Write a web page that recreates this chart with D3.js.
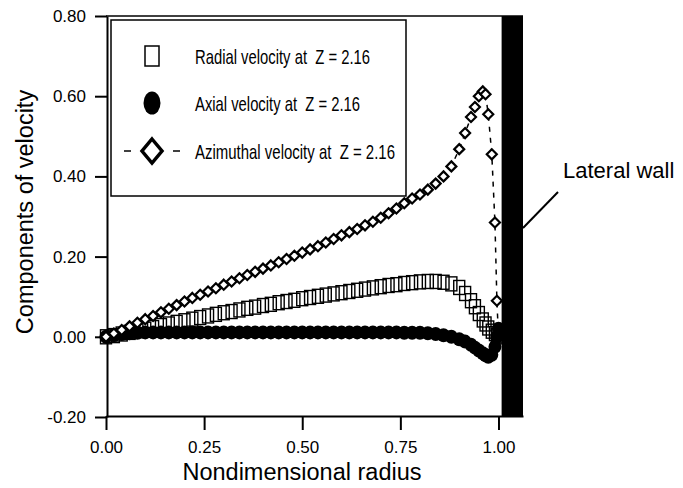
<!DOCTYPE html>
<html>
<head>
<meta charset="utf-8">
<script src="https://cdn.jsdelivr.net/npm/d3@7/dist/d3.min.js"></script>
<style>
  html, body { margin: 0; padding: 0; background: #fff; }
  svg { display: block; }
  text { font-family: "Liberation Sans", Arial, sans-serif; fill: #000; }
</style>
</head>
<body>
<svg id="chart" width="683" height="488"></svg>
<script>
// Nondimensional radius of each grid node (refined towards the lateral wall)
const radius = [
  0.00, 0.02, 0.04, 0.06, 0.08, 0.10, 0.12, 0.14, 0.16, 0.18,
  0.20, 0.22, 0.24, 0.26, 0.28, 0.30, 0.32, 0.34, 0.36, 0.38,
  0.40, 0.42, 0.44, 0.46, 0.48, 0.50, 0.52, 0.54, 0.56, 0.58,
  0.60, 0.62, 0.64, 0.66, 0.68, 0.70, 0.72, 0.74, 0.76, 0.78,
  0.80, 0.82, 0.84, 0.86, 0.88, 0.90, 0.915, 0.93, 0.94, 0.95,
  0.96, 0.967, 0.974, 0.983, 0.991, 0.996, 1.00
];

// Radial velocity at Z = 2.16
const radialVelocity = [
  0.000, 0.003, 0.007, 0.011, 0.015, 0.019, 0.023, 0.028, 0.032, 0.036,
  0.040, 0.044, 0.048, 0.052, 0.056, 0.060, 0.063, 0.067, 0.071, 0.074,
  0.078, 0.081, 0.085, 0.088, 0.091, 0.095, 0.098, 0.101, 0.104, 0.107,
  0.110, 0.113, 0.116, 0.119, 0.122, 0.125, 0.128, 0.130, 0.133, 0.135,
  0.137, 0.138, 0.138, 0.136, 0.132, 0.123, 0.108, 0.090, 0.075, 0.058,
  0.042, 0.032, 0.022, 0.014, 0.008, 0.004, 0.000
];

// Axial velocity at Z = 2.16
const axialVelocity = [
  0.000, 0.004, 0.007, 0.009, 0.010, 0.011, 0.011, 0.011, 0.011, 0.011,
  0.011, 0.011, 0.011, 0.011, 0.011, 0.011, 0.011, 0.011, 0.011, 0.011,
  0.011, 0.011, 0.011, 0.011, 0.011, 0.011, 0.011, 0.011, 0.011, 0.011,
  0.011, 0.011, 0.011, 0.011, 0.011, 0.011, 0.011, 0.011, 0.010, 0.010,
  0.010, 0.009, 0.007, 0.004, 0.000, -0.006, -0.012, -0.020, -0.027, -0.034,
  -0.041, -0.046, -0.050, -0.045, -0.025, 0.000, 0.020
];

// Azimuthal velocity at Z = 2.16
const azimuthalVelocity = [
  0.000, 0.008, 0.017, 0.026, 0.035, 0.044, 0.052, 0.061, 0.070, 0.079,
  0.088, 0.097, 0.105, 0.113, 0.121, 0.130, 0.138, 0.146, 0.154, 0.162,
  0.170, 0.178, 0.186, 0.194, 0.202, 0.210, 0.218, 0.226, 0.235, 0.244,
  0.253, 0.261, 0.269, 0.278, 0.287, 0.297, 0.308, 0.320, 0.333, 0.345,
  0.355, 0.367, 0.382, 0.400, 0.425, 0.468, 0.508, 0.548, 0.573, 0.600,
  0.612, 0.605, 0.555, 0.455, 0.285, 0.090, 0.000
];

const xTicks = [0, 0.25, 0.5, 0.75, 1.0];
const yTicks = [-0.2, 0, 0.2, 0.4, 0.6, 0.8];
const legendLabels = [
  "Radial velocity at  Z = 2.16",
  "Axial velocity at  Z = 2.16",
  "Azimuthal velocity at  Z = 2.16"
];

const svg = d3.select("#chart");

// Plot frame: 0..1.0625 in radius (the last strip is the wall), -0.2..0.8 in velocity
const x = d3.scaleLinear().domain([0, 1.0625]).range([106, 523]);
const y = d3.scaleLinear().domain([-0.2, 0.8]).range([417, 16]);

// Two decimals, plain hyphen for negatives
const fmt = v => d3.format(".2f")(v).replace("\u2212", "-");

// Axes
const gx = svg.append("g")
  .attr("transform", `translate(0,${y(-0.2) - 1})`)
  .call(d3.axisBottom(x).tickValues(xTicks).tickFormat(fmt)
        .tickSize(14).tickSizeOuter(0).tickPadding(11));
gx.select(".domain").attr("stroke-width", 2);
gx.selectAll(".tick line").attr("stroke-width", 2);
gx.selectAll(".tick text").style("font-size", "17px").attr("font-family", null);

const gy = svg.append("g")
  .attr("transform", `translate(${x(0) + 1},0)`)
  .call(d3.axisLeft(y).tickValues(yTicks).tickFormat(fmt)
        .tickSize(12).tickSizeOuter(0).tickPadding(9));
gy.select(".domain").attr("stroke-width", 2);
gy.selectAll(".tick line").attr("stroke-width", 2);
gy.selectAll(".tick text").style("font-size", "17px").attr("font-family", null);

// Top border of the frame
svg.append("line")
  .attr("x1", x(0)).attr("x2", x(1.0625))
  .attr("y1", y(0.8)).attr("y2", y(0.8))
  .attr("stroke", "#000").attr("stroke-width", 1.5);

// Axis titles
svg.append("text")
  .attr("x", 302).attr("y", 480)
  .attr("text-anchor", "middle")
  .style("font-size", "23.5px")
  .text("Nondimensional radius");

svg.append("text")
  .attr("transform", "translate(33,212) rotate(-90)")
  .attr("text-anchor", "middle")
  .style("font-size", "23.5px")
  .text("Components of velocity");

const pts = (vals) => radius.map((r, i) => ({ r, v: vals[i] }));

// Axial velocity: filled circles
svg.append("g").selectAll("ellipse")
  .data(pts(axialVelocity))
  .join("ellipse")
  .attr("cx", d => x(d.r)).attr("cy", d => y(d.v))
  .attr("rx", 6.5).attr("ry", 7)
  .attr("fill", "#000");

// Radial velocity: open squares
svg.append("g").selectAll("rect")
  .data(pts(radialVelocity))
  .join("rect")
  .attr("x", d => x(d.r) - 5.5).attr("y", d => y(d.v) - 7)
  .attr("width", 11).attr("height", 14)
  .attr("fill", "none").attr("stroke", "#000").attr("stroke-width", 1.4);

// Azimuthal velocity: dashed line with open diamonds
svg.append("path")
  .datum(pts(azimuthalVelocity))
  .attr("d", d3.line().x(d => x(d.r)).y(d => y(d.v)))
  .attr("fill", "none").attr("stroke", "#000")
  .attr("stroke-width", 1.5).attr("stroke-dasharray", "5,6");

const diamond = (cx, cy, w, h) =>
  `M${cx},${cy - h}L${cx + w},${cy}L${cx},${cy + h}L${cx - w},${cy}Z`;

svg.append("g").selectAll("path")
  .data(pts(azimuthalVelocity).slice(0, -1))
  .join("path")
  .attr("d", d => diamond(x(d.r), y(d.v), 5, 5))
  .attr("fill", "#fff").attr("stroke", "#000").attr("stroke-width", 2.2);

// Lateral wall
svg.append("rect")
  .attr("x", x(1.008)).attr("y", y(0.8))
  .attr("width", x(1.0625) - x(1.008)).attr("height", y(-0.2) - y(0.8))
  .attr("fill", "#000");

svg.append("line")
  .attr("x1", x(1.0625)).attr("y1", 228)
  .attr("x2", 558).attr("y2", 192)
  .attr("stroke", "#000").attr("stroke-width", 2);

svg.append("text")
  .attr("x", 563).attr("y", 178)
  .style("font-size", "22px")
  .text("Lateral wall");

// Legend
const lg = svg.append("g");
lg.append("rect")
  .attr("x", 111).attr("y", 20).attr("width", 295).attr("height", 176)
  .attr("fill", "#fff").attr("stroke", "#000").attr("stroke-width", 1.5);

const rowY = [56, 103, 151];
const textLen = [175, 165, 200];

lg.append("rect")
  .attr("x", 145).attr("y", rowY[0] - 10).attr("width", 14).attr("height", 20)
  .attr("fill", "#fff").attr("stroke", "#000").attr("stroke-width", 1.5);
lg.append("ellipse")
  .attr("cx", 152).attr("cy", rowY[1]).attr("rx", 8.5).attr("ry", 11.5)
  .attr("fill", "#000");
lg.append("line")
  .attr("x1", 124).attr("x2", 131).attr("y1", rowY[2]).attr("y2", rowY[2])
  .attr("stroke", "#000").attr("stroke-width", 1.5);
lg.append("line")
  .attr("x1", 173).attr("x2", 180).attr("y1", rowY[2]).attr("y2", rowY[2])
  .attr("stroke", "#000").attr("stroke-width", 1.5);
lg.append("path")
  .attr("d", diamond(152, rowY[2], 10, 12))
  .attr("fill", "#fff").attr("stroke", "#000").attr("stroke-width", 3.5);

lg.selectAll("text.lab")
  .data(legendLabels)
  .join("text")
  .attr("class", "lab")
  .attr("x", 195)
  .attr("y", (d, i) => rowY[i] + 7.5)
  .attr("textLength", (d, i) => textLen[i])
  .attr("lengthAdjust", "spacingAndGlyphs")
  .style("font-size", "21px")
  .style("white-space", "pre")
  .text(d => d);
</script>
</body>
</html>
